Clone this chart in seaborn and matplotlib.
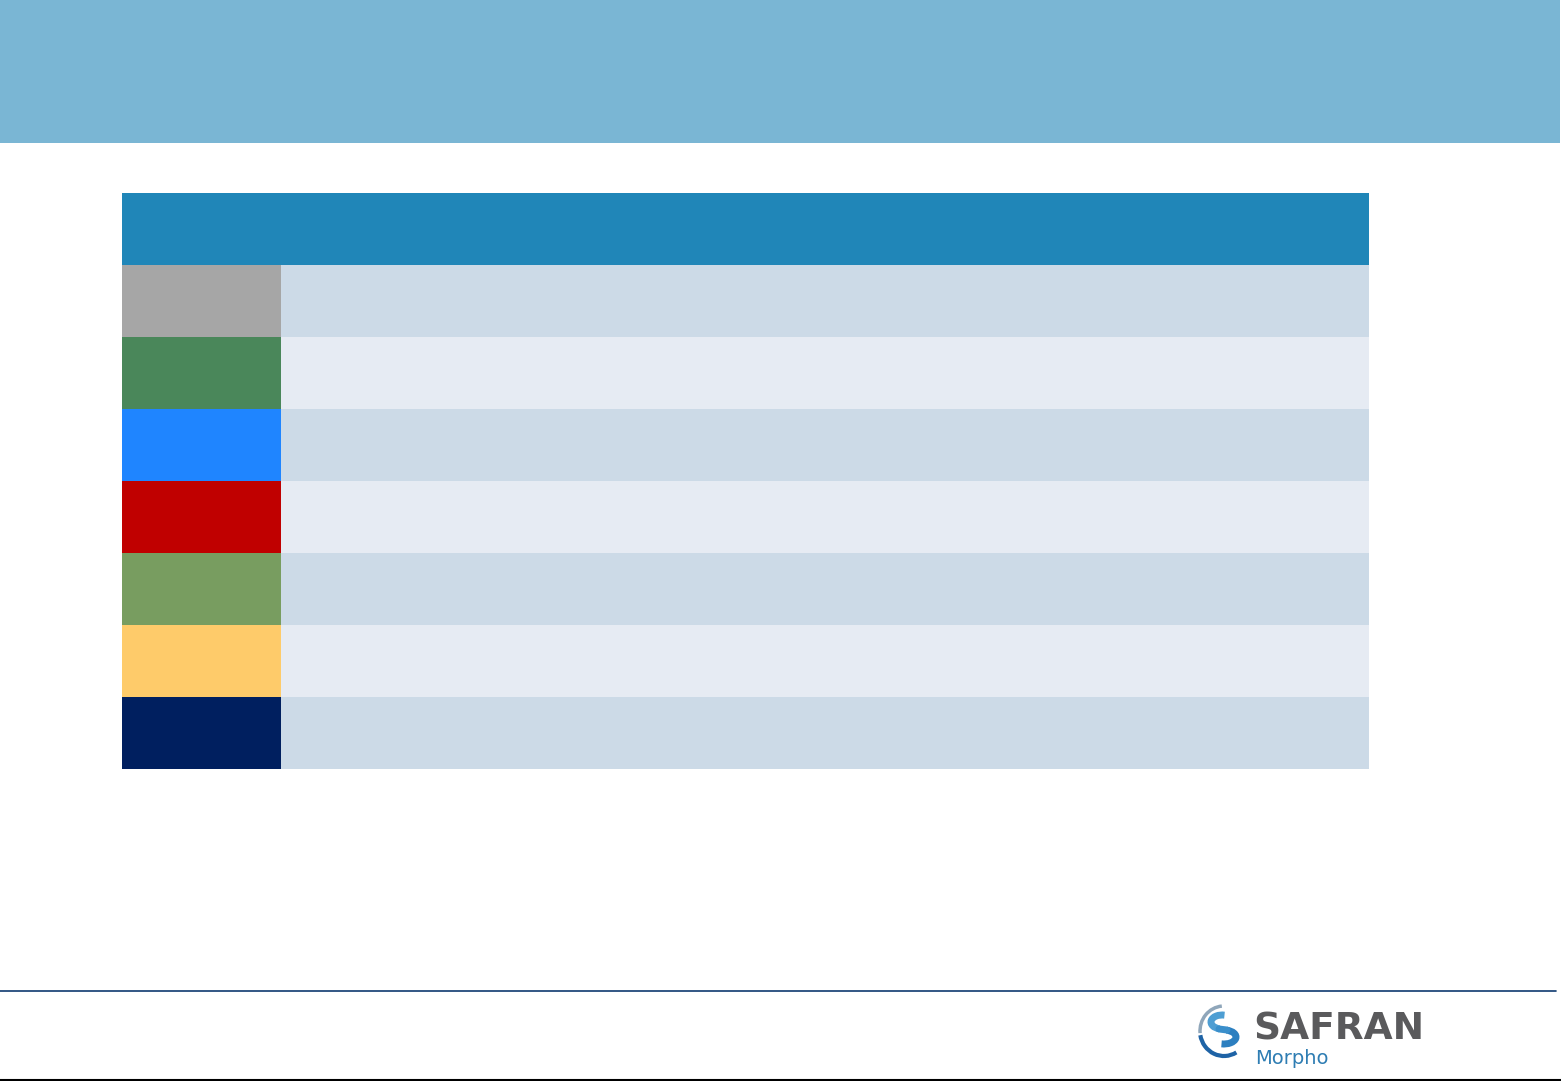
import numpy as np
import pandas as pd
import matplotlib
matplotlib.use("Agg")
import matplotlib.pyplot as plt
from matplotlib.colors import ListedColormap
from matplotlib.patches import Rectangle, Arc
import seaborn as sns

sns.set_theme(style="white")
plt.rcParams['font.family'] = ['DejaVu Sans']

# ---- data ----
swatch_colors = ["#A6A6A6", "#4A875A", "#1F85FF", "#C00000", "#789D60", "#FECB6A", "#001F5F"]
row_band_colors = ["#CCDAE7", "#E6EBF3"]
row_labels = ["", "", "", "", "", "", ""]
header_label = ""
title_band_color = "#7AB6D4"
header_color = "#2086B8"
brand_name = "SAFRAN"
brand_sub = "Morpho"

W, H = 1561, 1081
fig = plt.figure(figsize=(W / 100, H / 100), dpi=100)

# background axes in pixel coordinates (y inverted)
bg = fig.add_axes([0, 0, 1, 1])
bg.set_xlim(0, W)
bg.set_ylim(H, 0)
bg.axis("off")

# title band
bg.add_patch(Rectangle((0, 0), 1560, 143, color=title_band_color, lw=0))
# table header row
bg.add_patch(Rectangle((122, 193), 1247, 72, color=header_color, lw=0))
bg.text(130, 229, header_label, color="white", va="center", fontsize=14)

# footer lines
bg.plot([0, 1556], [991, 991], color="#0E3A6F", lw=1.2)
bg.plot([0, W], [1079.5, 1079.5], color="black", lw=1.5)

# logo swoosh (ring open to the right, S-shaped band inside); angles are mirrored by inverted y
bg.add_patch(Arc((1224, 1031), 48, 50, theta1=175, theta2=265, color="#8FA6BA", lw=2.5))
bg.add_patch(Arc((1224, 1031), 48, 50, theta1=60, theta2=170, color="#1E63A6", lw=3))
bg.add_patch(Arc((1222, 1022), 22, 14, theta1=110, theta2=290, color="#4E9ED3", lw=5))
bg.add_patch(Arc((1224, 1037), 24, 14, theta1=-70, theta2=110, color="#2C7FC0", lw=5))
bg.plot([1219, 1227], [1029, 1030], color="#3A8FCB", lw=5, solid_capstyle="round")
bg.text(1253, 1029, brand_name, color="#5A5A5C", fontsize=27, fontweight="bold",
        va="center", ha="left")
bg.text(1255, 1059, brand_sub, color="#2E7DB3", fontsize=14, va="center", ha="left")

n = len(swatch_colors)
top, bottom = 265, 769

def px_axes(x0, x1, y0, y1):
    return fig.add_axes([x0 / W, 1 - y1 / H, (x1 - x0) / W, (y1 - y0) / H])

# swatch column
ax1 = px_axes(122, 281, top, bottom)
sw = pd.DataFrame({"c": np.arange(n)}, index=row_labels)
sns.heatmap(sw, ax=ax1, cmap=ListedColormap(swatch_colors), cbar=False,
            vmin=-0.5, vmax=n - 0.5, xticklabels=False, yticklabels=False)

# banded rows
ax2 = px_axes(281, 1369, top, bottom)
bands = pd.DataFrame({"b": [i % 2 for i in range(n)]}, index=row_labels)
sns.heatmap(bands, ax=ax2, cmap=ListedColormap(row_band_colors), cbar=False,
            vmin=-0.5, vmax=1.5, xticklabels=False, yticklabels=False)

for a in (ax1, ax2):
    a.set_xlabel("")
    a.set_ylabel("")
    for s in a.spines.values():
        s.set_visible(False)

fig.savefig("out.png", dpi=100)
